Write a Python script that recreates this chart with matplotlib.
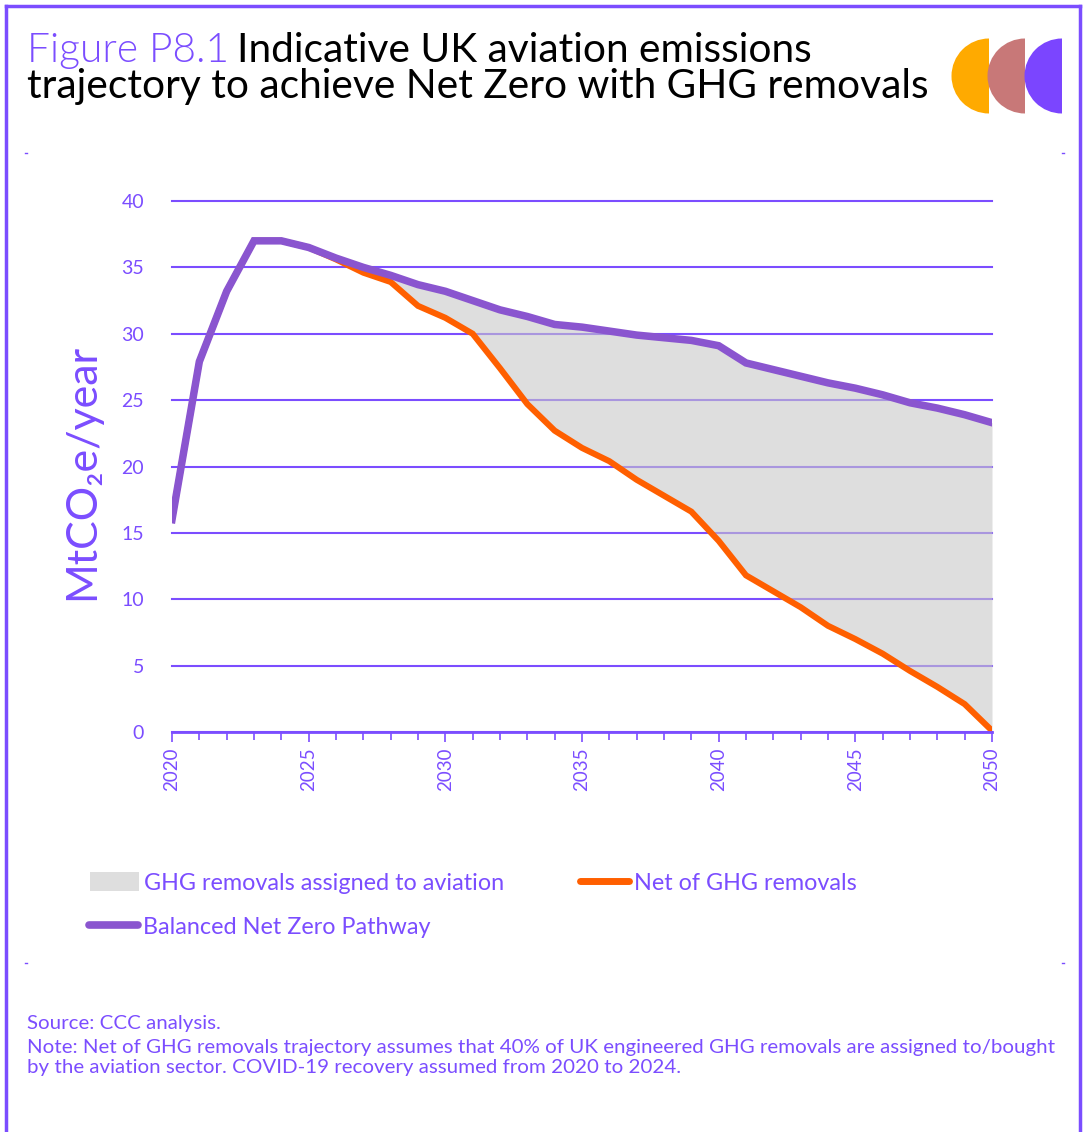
import matplotlib
matplotlib.use("Agg")
import matplotlib.pyplot as plt
from matplotlib.patches import Patch, Wedge
from matplotlib.lines import Line2D

# data (MtCO2e/year)
years = list(range(2020, 2051))
balanced = [16.0, 27.9, 33.2, 37.0, 37.0, 36.5, 35.7, 35.0, 34.4, 33.7,
            33.2, 32.5, 31.8, 31.3, 30.7, 30.5, 30.2, 29.9, 29.7, 29.5,
            29.1, 27.8, 27.3, 26.8, 26.3, 25.9, 25.4, 24.8, 24.4, 23.9, 23.3]
net_removals = [16.0, 27.9, 33.2, 37.0, 37.0, 36.5, 35.6, 34.6, 33.9, 32.1,
                31.2, 30.0, 27.4, 24.7, 22.7, 21.4, 20.4, 19.0, 17.8, 16.6,
                14.4, 11.8, 10.6, 9.4, 8.0, 7.0, 5.9, 4.6, 3.4, 2.1, 0.1]
y_ticks = [0, 5, 10, 15, 20, 25, 30, 35, 40]
x_ticks = [2020, 2025, 2030, 2035, 2040, 2045, 2050]

labels = ["GHG removals assigned to aviation", "Net of GHG removals",
          "Balanced Net Zero Pathway"]
title_fig = "Figure P8.1"
title_1 = "Indicative UK aviation emissions"
title_2 = "trajectory to achieve Net Zero with GHG removals"
source = "Source: CCC analysis."
note_1 = ("Note: Net of GHG removals trajectory assumes that 40% of UK engineered "
          "GHG removals are assigned to/bought")
note_2 = "by the aviation sector. COVID-19 recovery assumed from 2020 to 2024."

PURPLE = "#7B4DFF"
LINE_PURPLE = "#8A55CF"
ORANGE = "#FF5F00"
GREY = "#DEDEDE"

plt.rcParams['font.family'] = ['Lato', 'DejaVu Sans']

W, H = 1086, 1132
fig = plt.figure(figsize=(W / 100, H / 100), dpi=100)


def fx(x):
    return x / W


def fy(y):
    return 1 - y / H


def fit_width(t, width_px):
    fig.canvas.draw()
    w = t.get_window_extent(fig.canvas.get_renderer()).width
    t.set_fontsize(t.get_fontsize() * width_px / w)


# main chart
ax = fig.add_axes([fx(172), fy(732), fx(992) - fx(172), fy(201) - fy(732)])
ax.fill_between(years, net_removals, balanced, color="#C8C8C8", alpha=0.6,
                lw=0, zorder=3)
ax.plot(years, net_removals, color=ORANGE, lw=4.4, zorder=4, solid_joinstyle='miter')
ax.plot(years, balanced, color=LINE_PURPLE, lw=5.4, zorder=5, solid_joinstyle='miter')

ax.set_xlim(2020, 2050)
ax.set_ylim(0, 40)
ax.set_yticks(y_ticks)
ax.set_xticks(x_ticks)
ax.set_xticks(years, minor=True)
ax.set_xticklabels([str(v) for v in x_ticks], rotation=90)
ax.yaxis.grid(True, color=PURPLE, lw=1.5, zorder=1)
for gl in ax.get_ygridlines():
    gl.set_clip_on(False)
ax.set_axisbelow(True)
for s in ['top', 'right', 'left']:
    ax.spines[s].set_visible(False)
ax.spines['bottom'].set_color(PURPLE)
ax.spines['bottom'].set_linewidth(2)
ax.spines['bottom'].set_zorder(6)
ax.tick_params(axis='y', length=0, pad=20, labelsize=14, labelcolor=PURPLE)
ax.tick_params(axis='x', which='both', direction='out', color=PURPLE, width=1.2,
               labelsize=13.5, labelcolor=PURPLE, pad=4)
ax.tick_params(axis='x', which='major', length=7)
ax.tick_params(axis='x', which='minor', length=6)
ax.set_facecolor('none')

fig.text(fx(82), fy(472), "MtCO\u2082e/year", rotation=90, color=PURPLE,
         fontsize=31, ha='center', va='center')

# legend, one entry per anchor so each sits where the reference has it
h_fill = Patch(facecolor=GREY, edgecolor='none')
h_net = Line2D([], [], color=ORANGE, lw=5, solid_capstyle='round')
h_bal = Line2D([], [], color=LINE_PURPLE, lw=5.5, solid_capstyle='round')
for h, lab, x, y in [(h_fill, labels[0], 90, 883), (h_net, labels[1], 580, 883),
                     (h_bal, labels[2], 89, 927)]:
    fig.legend([h], [lab], loc='center left', bbox_to_anchor=(fx(x), fy(y)),
               frameon=False, borderpad=0, borderaxespad=0, fontsize=16.8,
               handlelength=2.1, handleheight=0.85, handletextpad=0.2,
               labelcolor=PURPLE)

# title
t2 = fig.text(fx(27), fy(98), title_2, fontsize=30, color='black', va='baseline')
fit_width(t2, 900)
t0 = fig.text(fx(27), fy(62), title_fig, fontsize=t2.get_fontsize(), color=PURPLE,
              va='baseline', weight=300)
fig.canvas.draw()
x_end = t0.get_window_extent(fig.canvas.get_renderer()).x1
t1 = fig.text((x_end + 8) / W, fy(62), title_1, fontsize=t2.get_fontsize(),
              color='black', va='baseline')

# footnotes
n1 = fig.text(fx(27), fy(1053), note_1, fontsize=12.5, color=PURPLE, va='baseline')
fit_width(n1, 1030)
fig.text(fx(27), fy(1029), source, fontsize=n1.get_fontsize(), color=PURPLE, va='baseline')
fig.text(fx(27), fy(1073), note_2, fontsize=n1.get_fontsize(), color=PURPLE, va='baseline')

# logo: three half discs
lax = fig.add_axes([fx(940), fy(120), fx(1070) - fx(940), fy(32) - fy(120)])
lax.set_xlim(940, 1070)
lax.set_ylim(120, 32)
lax.set_aspect('equal')
lax.axis('off')
for cx, col in [(989, "#FFAA00"), (1025, "#C87878"), (1062, "#7B45FF")]:
    lax.add_patch(Wedge((cx, 76), 37.5, 90, 270, facecolor=col, edgecolor='none'))

# frame and corner marks
frame = dict(color=PURPLE, lw=2.5, transform=fig.transFigure)
fig.add_artist(Line2D([fx(6), fx(6)], [fy(6), 0], **frame))
fig.add_artist(Line2D([fx(6), fx(1080)], [fy(6), fy(6)], **frame))
fig.add_artist(Line2D([fx(1080), fx(1080)], [fy(6), 0], **frame))
for mx in (25, 1062):
    for my in (153, 963):
        fig.add_artist(Line2D([fx(mx), fx(mx + 2)], [fy(my), fy(my)], color=PURPLE,
                              lw=1, transform=fig.transFigure))

fig.savefig("out.png", dpi=100, facecolor='white')
